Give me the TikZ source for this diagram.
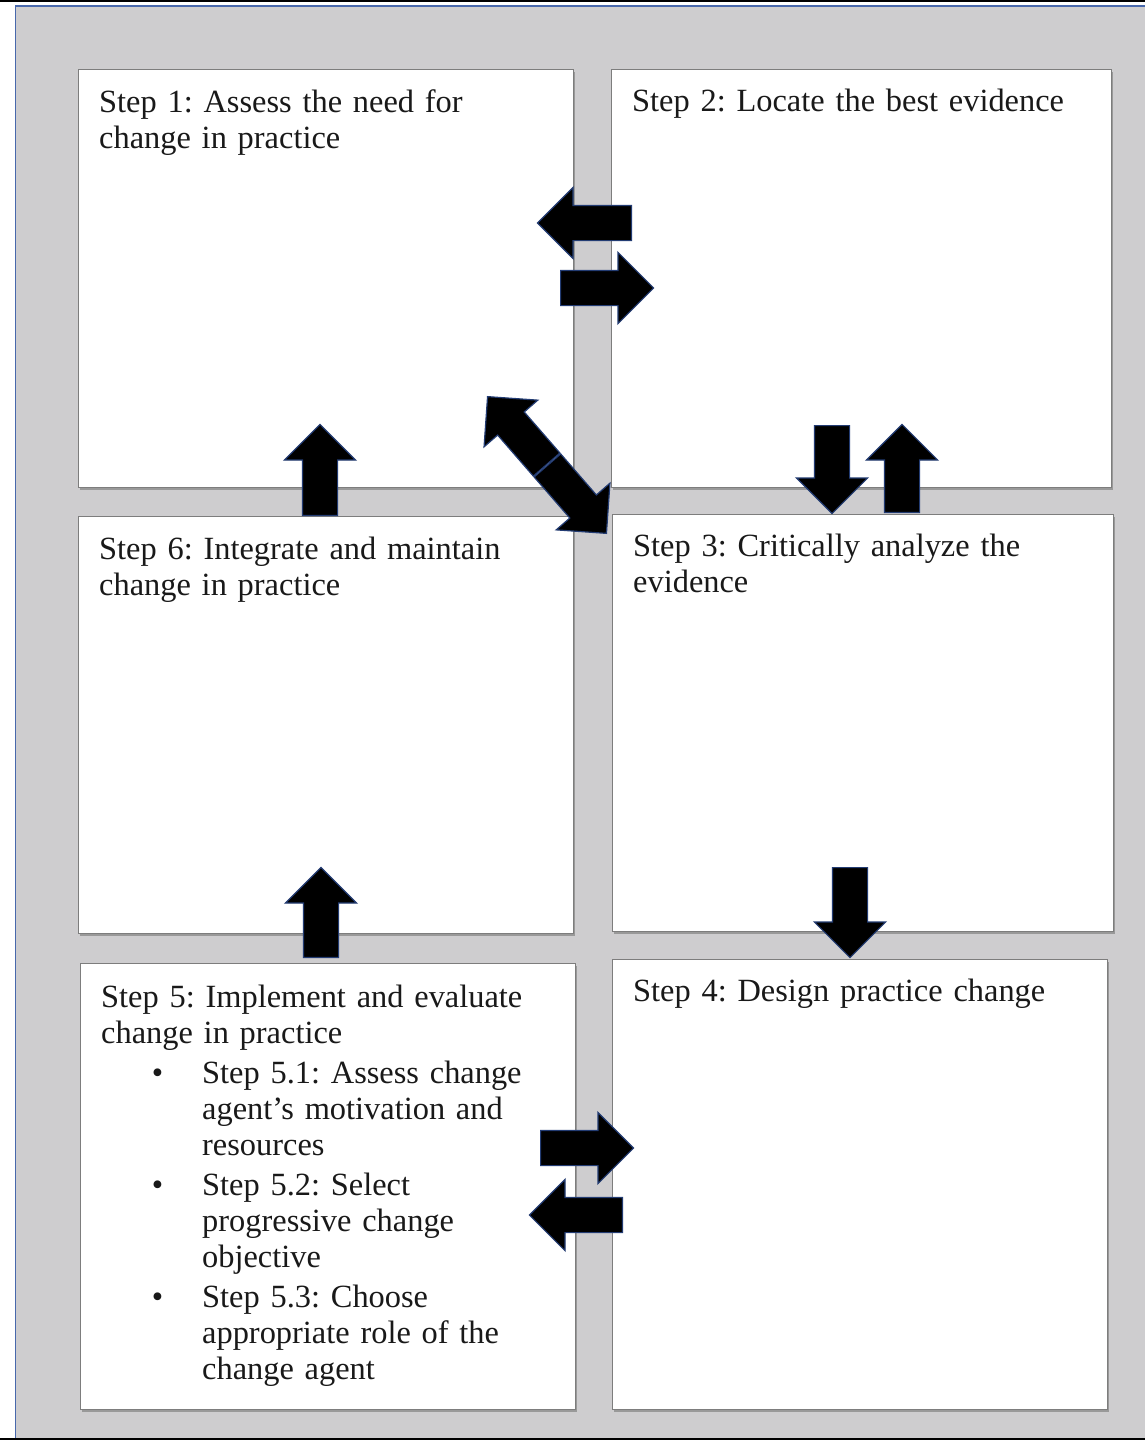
\documentclass[tikz,border=0pt]{standalone}
\usepackage{fontspec}
\setmainfont{Liberation Serif}
\usepackage{enumitem}
\usetikzlibrary{positioning,shapes.arrows,shadows}
\setlength{\parindent}{0pt}
\frenchspacing
\definecolor{panelgray}{RGB}{206,205,207}
\definecolor{boxline}{RGB}{125,125,125}
\definecolor{frameblue}{RGB}{72,104,172}
\definecolor{arrowedge}{RGB}{35,60,115}
\tikzset{
  stepbox/.style={draw=boxline, line width=1.2pt, fill=white, anchor=north west, inner sep=0pt,
    drop shadow={shadow xshift=1.5pt, shadow yshift=-2pt, fill=black!40, opacity=1}},
  steptext/.style={anchor=north west, inner sep=0pt, align=left, text width=#1,
    text=black!90, font=\fontsize{32.4}{36}\selectfont\frenchspacing},
  blockarrow/.style={single arrow, draw=arrowedge, line width=1.2pt, fill=black, anchor=tail,
    inner xsep=0pt, inner ysep=17pt, single arrow head extend=18pt, minimum height=#1},
}

\begin{document}
\begin{tikzpicture}[x=1pt, y=-1pt]
  \useasboundingbox (0,0) rectangle (1145,1440);
  % frame
  \fill[white] (0,0) rectangle (1145,1440);
  \fill[panelgray] (15.5,6) rectangle (1145,1437.5);
  \draw[frameblue, line width=1.6pt] (1145,6) -- (15.5,6) -- (15.5,1437.5);
  \draw[black, line width=1.5pt] (0,0.8) -- (1145,0.8);
  \draw[black, line width=3pt] (0,1439) -- (1145,1439);
  % boxes
  \node[stepbox, minimum width=495pt, minimum height=418pt] (s1) at (78,69) {};
  \node[stepbox, minimum width=500pt, minimum height=418pt] (s2) at (611,69) {};
  \node[stepbox, minimum width=495pt, minimum height=417pt] (s6) at (78,516) {};
  \node[stepbox, minimum width=501pt, minimum height=417pt] (s3) at (612,514) {};
  \node[stepbox, minimum width=495pt, minimum height=446pt] (s5) at (80,963) {};
  \node[stepbox, minimum width=495pt, minimum height=450pt] (s4) at (612,959) {};
  % texts
  \node[steptext=470pt, below right=20pt and 21pt of s1.north west] (t1) {Step 1: Assess the need for\\change in practice};
  \node[steptext=470pt, below right=20pt and 21pt of s2.north west] (t2) {Step 2: Locate the best evidence};
  \node[steptext=470pt, below right=21pt and 21pt of s6.north west] (t6) {Step 6: Integrate and maintain\\change in practice};
  \node[steptext=470pt, below right=20pt and 21pt of s3.north west] (t3) {Step 3: Critically analyze the\\evidence};
  \node[steptext=470pt, below right=20pt and 21pt of s4.north west] (t4) {Step 4: Design practice change};
  \node[steptext=470pt, below right=22pt and 21pt of s5.north west] (t5) {Step 5: Implement and evaluate\\change in practice
    \begin{itemize}[label=\textbullet, leftmargin=101pt, labelwidth=10pt, labelsep=39pt,
      topsep=4pt, partopsep=0pt, itemsep=4pt, parsep=0pt]
      \item Step 5.1: Assess change\newline agent’s motivation and\newline resources
      \item Step 5.2: Select\newline progressive change\newline objective
      \item Step 5.3: Choose\newline appropriate role of the\newline change agent
    \end{itemize}};
  % arrows
  \node[blockarrow=94pt, rotate=180] (a21) at (632,223) {};
  \node[blockarrow=93pt] (a12) at (560,288) {};
  \node[blockarrow=90pt, rotate=131] (a31) at (547,465) {};
  \node[blockarrow=90pt, rotate=-49] (a13) at (547,465) {};
  \node[blockarrow=91pt, rotate=90] (a61) at (320,516) {};
  \node[blockarrow=88pt, rotate=-90] (a23) at (832,425) {};
  \node[blockarrow=88pt, rotate=90] (a32) at (902,513) {};
  \node[blockarrow=90pt, rotate=90] (a56) at (321,958) {};
  \node[blockarrow=90pt, rotate=-90] (a34) at (850,867) {};
  \node[blockarrow=93pt] (a54) at (540,1148) {};
  \node[blockarrow=93pt, rotate=180] (a45) at (623,1215) {};
\end{tikzpicture}
\end{document}
